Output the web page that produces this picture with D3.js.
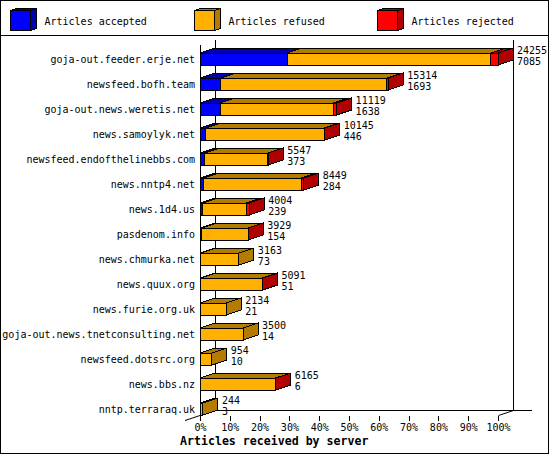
<!DOCTYPE html>
<html>
<head>
<meta charset="utf-8">
<script src="https://cdn.jsdelivr.net/npm/d3@7"></script>
<style>
  html, body { margin: 0; padding: 0; background: #fff; }
  svg { display: block; }
  text { font-family: "DejaVu Sans Mono", monospace; fill: #000; }
</style>
</head>
<body>
<script>
// ---- data ----
const categories = [
  "goja-out.feeder.erje.net",
  "newsfeed.bofh.team",
  "goja-out.news.weretis.net",
  "news.samoylyk.net",
  "newsfeed.endofthelinebbs.com",
  "news.nntp4.net",
  "news.1d4.us",
  "pasdenom.info",
  "news.chmurka.net",
  "news.quux.org",
  "news.furie.org.uk",
  "goja-out.news.tnetconsulting.net",
  "newsfeed.dotsrc.org",
  "news.bbs.nz",
  "nntp.terraraq.uk"
];
const accepted = [7085, 1693, 1638, 446, 373, 284, 239, 154, 73, 51, 21, 14, 10, 6, 3];
const refused  = [16570, 13501, 9231, 9669, 5154, 7965, 3515, 3760, 3090, 5030, 2113, 3486, 944, 6149, 241];
const rejected = [600, 120, 250, 30, 20, 200, 250, 15, 0, 10, 0, 0, 0, 10, 0];
const seriesNames = ["Articles accepted", "Articles refused", "Articles rejected"];
const tickValues = [0, 10, 20, 30, 40, 50, 60, 70, 80, 90, 100];
const axisTitle = "Articles received by server";

// ---- styles ----
const front = ["#0000ff", "#ffb000", "#ff0000"];
const dark  = ["#0000b0", "#b37b00", "#b00000"];
const DX = 15, DY = 5;

const W = 550, H = 455;
const svg = d3.select("body").append("svg")
  .attr("width", W).attr("height", H)
  .attr("shape-rendering", "crispEdges");

svg.append("rect").attr("x", 0).attr("y", 0).attr("width", W).attr("height", H).attr("fill", "#fff");
svg.append("rect").attr("x", 0.5).attr("y", 0.5).attr("width", 548).attr("height", 453)
  .attr("fill", "none").attr("stroke", "#000");
svg.append("line").attr("x1", 0).attr("x2", 549).attr("y1", 35.5).attr("y2", 35.5).attr("stroke", "#000");

// ---- legend ----
const legendX = [10, 194, 377];
seriesNames.forEach((name, i) => {
  const g = svg.append("g").attr("transform", `translate(${legendX[i] + 0.5},10.5)`);
  const s = 20, dx = 6, dy = 2;
  g.append("polygon").attr("points", `0,0 ${s},0 ${s + dx},${-dy} ${dx},${-dy}`)
    .attr("fill", dark[i]).attr("stroke", "#000");
  g.append("polygon").attr("points", `${s},0 ${s + dx},${-dy} ${s + dx},${s - dy} ${s},${s}`)
    .attr("fill", dark[i]).attr("stroke", "#000");
  g.append("rect").attr("width", s).attr("height", s).attr("fill", front[i]).attr("stroke", "#000");
  g.append("text").attr("x", s + dx + 8).attr("y", 14).style("font-size", "10px").text(name);
});

// ---- scales ----
const totals = categories.map((c, i) => accepted[i] + refused[i] + rejected[i]);
const maxTotal = d3.max(totals);
const x = d3.scaleLinear().domain([0, maxTotal]).range([200, 498]);
const pct = d3.scaleLinear().domain([0, 100]).range([200, 498]);
const y = d3.scaleBand().domain(categories).range([46.5, 421.5]).paddingInner(0.52).paddingOuter(0.26);

// ---- frame ----
const frame = svg.append("g").attr("stroke", "#000").attr("fill", "none");
frame.append("line").attr("x1", 200.5).attr("x2", 200.5).attr("y1", 45).attr("y2", 421);
frame.append("line").attr("x1", 215.5).attr("x2", 215.5).attr("y1", 40).attr("y2", 410);
frame.append("line").attr("x1", 513.5).attr("x2", 513.5).attr("y1", 40).attr("y2", 410);
frame.append("line").attr("x1", 215).attr("x2", 532).attr("y1", 410.5).attr("y2", 410.5);
frame.append("line").attr("x1", 185).attr("x2", 215).attr("y1", 420.5).attr("y2", 410.5).attr("shape-rendering", "auto");
frame.append("line").attr("x1", 498.5).attr("x2", 513.5).attr("y1", 415.5).attr("y2", 410.5).attr("shape-rendering", "auto");

// ---- axis ----
const axis = d3.axisBottom(pct).tickValues(tickValues).tickSize(5).tickFormat(d => d + "%");
const ax = svg.append("g").attr("transform", "translate(0,416)").call(axis);
ax.select(".domain").remove();
ax.selectAll("line").attr("stroke", "#000");
ax.selectAll("text").style("font-size", "10px").style("font-family", "'DejaVu Sans Mono', monospace").attr("fill", "#000");

svg.append("text").attr("x", 180).attr("y", 445)
  .style("font-size", "11.6px").style("font-weight", "bold").text(axisTitle);

// ---- bars ----
const bars = svg.append("g");
categories.forEach((cat, i) => {
  const vals = [accepted[i], refused[i], rejected[i]];
  const top = y(cat), h = y.bandwidth(), bot = top + h;
  const g = bars.append("g").attr("stroke", "#000");
  let acc = 0;
  let lastIdx = -1;
  vals.forEach((v, k) => { if (v > 0) lastIdx = k; });
  vals.forEach((v, k) => {
    if (v <= 0) { return; }
    const x0 = x(acc), x1 = x(acc + v);
    acc += v;
    g.append("polygon")
      .attr("points", `${x0},${top} ${x1},${top} ${x1 + DX},${top - DY} ${x0 + DX},${top - DY}`)
      .attr("fill", dark[k]);
    g.append("rect").attr("x", x0).attr("y", top).attr("width", x1 - x0).attr("height", h)
      .attr("fill", front[k]);
    if (k === lastIdx) {
      g.append("polygon")
        .attr("points", `${x1},${top} ${x1 + DX},${top - DY} ${x1 + DX},${bot - DY} ${x1},${bot}`)
        .attr("fill", dark[k]);
    }
  });
  const lx = x(totals[i]) + DX + 4;
  svg.append("text").attr("x", lx).attr("y", top + 1).style("font-size", "10px").text(totals[i]);
  svg.append("text").attr("x", lx).attr("y", top + 12).style("font-size", "10px").text(accepted[i]);
  svg.append("text").attr("x", 195).attr("y", top + h / 2 + 4).attr("text-anchor", "end")
    .style("font-size", "10px").text(cat);
});
</script>
</body>
</html>
